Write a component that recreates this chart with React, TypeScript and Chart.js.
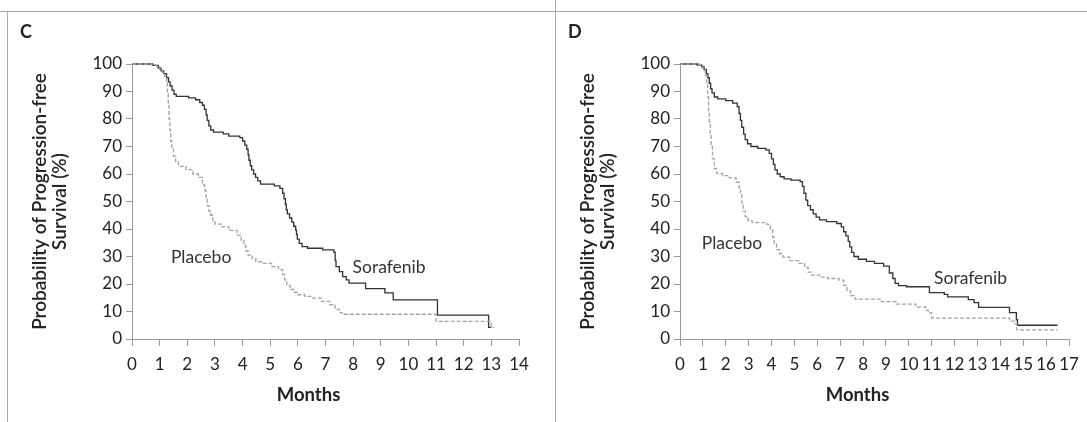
import React, { useEffect, useRef } from "react";
import { Chart, registerables } from "chart.js";

Chart.register(...registerables);

// ---------- Data ----------
const yTickValues = [0, 10, 20, 30, 40, 50, 60, 70, 80, 90, 100];
const xTickValuesC = [0, 1, 2, 3, 4, 5, 6, 7, 8, 9, 10, 11, 12, 13, 14];
const xTickValuesD = [0, 1, 2, 3, 4, 5, 6, 7, 8, 9, 10, 11, 12, 13, 14, 15, 16, 17];

// Panel C – Sorafenib (months, % progression-free)
const cSorafenibMonths = [0, 0.75, 0.95, 1.05, 1.15, 1.25, 1.32, 1.38, 1.45, 1.52, 1.6, 2.05, 2.3, 2.45, 2.55, 2.62, 2.68, 2.72, 2.78, 2.85, 2.95, 3.3, 3.5, 3.9, 4.0, 4.08, 4.15, 4.2, 4.23, 4.28, 4.33, 4.4, 4.47, 4.55, 4.65, 5.15, 5.35, 5.45, 5.5, 5.55, 5.58, 5.62, 5.7, 5.78, 5.85, 5.92, 5.95, 5.98, 6.05, 6.15, 6.35, 6.9, 7.3, 7.35, 7.38, 7.5, 7.62, 7.75, 7.85, 8.45, 9.15, 9.45, 11.05, 12.9, 13.0];
const cSorafenibPct = [100, 99.5, 98.5, 97.5, 96.5, 95, 93.5, 92, 90.5, 89, 88.2, 87.7, 87, 86, 85, 83.5, 81.5, 79.5, 77.5, 76, 75.2, 74.6, 73.8, 73.2, 72, 70.5, 69, 67, 65, 63, 61.5, 60, 58.8, 57.5, 56.3, 55.7, 54.8, 53, 51, 49, 47, 45.5, 44, 42.5, 41, 39.6, 38, 36.3, 34.8, 33.6, 33, 32.4, 31.6, 28.5, 26.3, 24.5, 22.7, 21.5, 20.3, 18.3, 16.8, 14.2, 8.7, 4.2, 4.2];

// Panel C – Placebo
const cPlaceboMonths = [0, 0.7, 0.9, 1.0, 1.1, 1.18, 1.25, 1.28, 1.31, 1.34, 1.37, 1.4, 1.44, 1.5, 1.58, 1.68, 1.95, 2.2, 2.4, 2.55, 2.63, 2.68, 2.72, 2.78, 2.85, 2.92, 3.0, 3.25, 3.5, 3.8, 3.95, 4.05, 4.12, 4.2, 4.35, 4.48, 4.75, 5.05, 5.3, 5.45, 5.52, 5.6, 5.72, 5.85, 6.0, 6.25, 6.55, 6.85, 7.15, 7.35, 7.5, 7.6, 11.0, 13.0, 13.1];
const cPlaceboPct = [100, 99.6, 99, 98, 97, 95.5, 93, 89, 85, 80, 76, 72, 69, 66.5, 64.5, 62.8, 61.6, 60, 58.8, 56, 54, 51.5, 48.5, 46.5, 45, 43, 41.8, 40.8, 39.5, 37.8, 36, 34, 32, 30.5, 29.2, 28.1, 27.5, 26.3, 25.2, 23.5, 21.5, 19.5, 18, 17, 16.1, 15.5, 14.9, 13.7, 12.5, 10.8, 9.6, 9.0, 6.4, 4.2, 4.2];

// Panel D – Sorafenib
const dSorafenibMonths = [0, 0.75, 0.95, 1.05, 1.15, 1.22, 1.28, 1.34, 1.4, 1.5, 1.65, 2.0, 2.3, 2.5, 2.58, 2.64, 2.7, 2.78, 2.85, 2.95, 3.1, 3.4, 3.75, 3.9, 4.0, 4.08, 4.15, 4.25, 4.38, 4.55, 4.85, 5.25, 5.35, 5.42, 5.5, 5.58, 5.7, 5.82, 5.95, 6.1, 6.4, 6.85, 7.05, 7.15, 7.25, 7.35, 7.42, 7.5, 7.6, 7.8, 8.15, 8.5, 8.9, 9.15, 9.3, 9.4, 9.55, 9.9, 10.9, 11.55, 11.7, 12.6, 12.85, 13.05, 14.4, 14.7, 14.75, 16.5];
const dSorafenibPct = [100, 99.6, 99, 98, 96.5, 95, 93, 91, 89.5, 88, 87.3, 86.7, 85.8, 84.5, 82, 79.5, 77, 74.5, 72.5, 71, 70, 69.3, 68.8, 67.5, 65.5, 63.5, 61.5, 60, 59, 58.2, 57.8, 57.2, 55.5, 53, 50.5, 48.5, 47, 45.5, 44.3, 43.3, 42.7, 42, 40.8, 39, 37.5, 35.5, 33.5, 31.5, 30, 29, 28.2, 27.5, 26.5, 24, 22, 20.2, 19.4, 19, 16.9, 16.2, 15.3, 14.3, 13.2, 11.5, 9.6, 7, 5, 5];

// Panel D – Placebo
const dPlaceboMonths = [0, 0.85, 1.0, 1.1, 1.17, 1.21, 1.25, 1.28, 1.32, 1.36, 1.42, 1.5, 1.6, 1.85, 2.15, 2.45, 2.58, 2.64, 2.7, 2.76, 2.85, 2.98, 3.15, 3.8, 3.95, 4.05, 4.12, 4.22, 4.35, 4.5, 4.8, 5.2, 5.45, 5.6, 5.75, 6.1, 6.45, 6.95, 7.15, 7.3, 7.45, 7.65, 8.8, 9.45, 10.3, 10.75, 10.85, 11.0, 14.4, 14.6, 14.72, 16.5];
const dPlaceboPct = [100, 99.5, 98, 96, 93, 88, 83, 79, 74.5, 70, 65.5, 62, 60.2, 59.4, 58.6, 57, 55, 52.5, 49.5, 46.5, 44.5, 43, 42.3, 41.7, 40, 37, 34.5, 32.5, 31, 29.8, 28.5, 27.5, 26, 24.3, 23.2, 22.5, 22, 21.4, 19.5, 17.5, 15.8, 14.5, 13.6, 12.7, 11.6, 10.5, 9.5, 7.6, 6.5, 5.5, 3.3, 3.3];

const yTitleLines = ["Probability of Progression-free", "Survival (%)"];
const xTitle = "Months";

// ---------- Chart helpers ----------
const FONT = 'Lato, "Open Sans", sans-serif';
const AXIS_GREY = "#9a9a9a";
const TEXT = "#222";

const toPoints = (xs: number[], ys: number[]) => xs.map((x, i) => ({ x, y: ys[i] }));

const textPlugin = {
  id: "panelText",
  afterDraw(chart: any, _args: any, opts: any) {
    const { ctx, chartArea, scales } = chart;
    ctx.save();
    ctx.fillStyle = TEXT;
    // panel letter
    ctx.font = `bold 18px ${FONT}`;
    ctx.textAlign = "left";
    ctx.textBaseline = "middle";
    ctx.fillText(opts.letter, opts.letterX, opts.letterY);
    // x axis title
    ctx.font = `bold 18.5px ${FONT}`;
    ctx.textAlign = "center";
    ctx.fillText(xTitle, (chartArea.left + chartArea.right) / 2 - 17, scales.x.top + 56);
    // curve labels
    ctx.font = `17.5px ${FONT}`;
    ctx.fillStyle = "#333";
    for (const l of opts.labels) {
      ctx.fillText(l.text, scales.x.getPixelForValue(l.x), scales.y.getPixelForValue(l.y));
    }
    ctx.restore();
  },
};

interface PanelProps {
  left: number;
  width: number;
  xMax: number;
  xTicks: number[];
  sorafenib: { x: number; y: number }[];
  placebo: { x: number; y: number }[];
  letter: string;
  labels: { text: string; x: number; y: number }[];
  rightPad: number;
}

function Panel(p: PanelProps) {
  const ref = useRef<HTMLCanvasElement | null>(null);
  useEffect(() => {
    if (!ref.current) return;
    const chart = new Chart(ref.current, {
      type: "line",
      data: {
        datasets: [
          {
            label: "Placebo",
            data: p.placebo,
            borderColor: "#a3a3a3",
            borderWidth: 1.3,
            borderDash: [4, 2],
            pointRadius: 0,
            stepped: "before",
            fill: false,
            clip: false as any,
          },
          {
            label: "Sorafenib",
            data: p.sorafenib,
            borderColor: "#333333",
            borderWidth: 1.3,
            pointRadius: 0,
            stepped: "before",
            fill: false,
            clip: false as any,
          },
        ],
      },
      plugins: [textPlugin as any],
      options: {
        animation: false,
        responsive: false,
        maintainAspectRatio: false,
        layout: { padding: { top: 52, left: 0, right: p.rightPad, bottom: 0 } },
        plugins: {
          legend: { display: false },
          tooltip: { enabled: false },
          panelText: { letter: p.letter, letterX: 12, letterY: 20, labels: p.labels },
        } as any,
        scales: {
          x: {
            type: "linear",
            min: 0,
            max: p.xMax,
            afterBuildTicks: (s: any) => {
              s.ticks = p.xTicks.map((v) => ({ value: v }));
            },
            afterFit: (s: any) => {
              s.height = 83;
            },
            grid: { drawOnChartArea: false, drawTicks: true, tickLength: 7, color: AXIS_GREY, lineWidth: 1 },
            border: { display: true, color: AXIS_GREY, width: 1 },
            ticks: {
              autoSkip: false,
              maxRotation: 0,
              minRotation: 0,
              padding: 8,
              color: TEXT,
              font: { family: FONT, size: 17 },
            },
          },
          y: {
            type: "linear",
            min: 0,
            max: 100,
            afterBuildTicks: (s: any) => {
              s.ticks = yTickValues.map((v) => ({ value: v }));
            },
            afterFit: (s: any) => {
              s.width = 124;
            },
            grid: { drawOnChartArea: false, drawTicks: true, tickLength: 6, color: AXIS_GREY, lineWidth: 1 },
            border: { display: true, color: AXIS_GREY, width: 1 },
            ticks: {
              padding: 4,
              color: TEXT,
              font: { family: FONT, size: 17 },
            },
            title: {
              display: true,
              text: yTitleLines,
              color: TEXT,
              font: { family: FONT, size: 19, weight: "600", lineHeight: 1.1 },
              padding: { top: 21, bottom: 0 },
            },
          },
        },
      },
    });
    return () => chart.destroy();
  }, []);
  return (
    <canvas
      ref={ref}
      width={p.width}
      height={410}
      style={{ position: "absolute", left: p.left, top: 12, width: p.width, height: 410 }}
    />
  );
}

export default function App() {
  return (
    <div
      style={{
        position: "fixed",
        left: 0,
        top: 0,
        width: 1087,
        height: 422,
        background: "#fff",
        overflow: "hidden",
      }}
    >
      <div style={{ position: "absolute", left: 0, top: 11, width: 1087, height: 1, background: "#aaa" }} />
      <div style={{ position: "absolute", left: 7, top: 11, width: 1, height: 411, background: "#aaa" }} />
      <div style={{ position: "absolute", left: 555, top: 0, width: 1, height: 422, background: "#aaa" }} />
      <Panel
        left={8}
        width={547}
        xMax={14}
        xTicks={xTickValuesC}
        sorafenib={toPoints(cSorafenibMonths, cSorafenibPct)}
        placebo={toPoints(cPlaceboMonths, cPlaceboPct)}
        letter="C"
        labels={[
          { text: "Placebo", x: 2.5, y: 29.8 },
          { text: "Sorafenib", x: 9.3, y: 26.2 },
        ]}
        rightPad={36}
      />
      <Panel
        left={556}
        width={531}
        xMax={17}
        xTicks={xTickValuesD}
        sorafenib={toPoints(dSorafenibMonths, dSorafenibPct)}
        placebo={toPoints(dPlaceboMonths, dPlaceboPct)}
        letter="D"
        labels={[
          { text: "Placebo", x: 2.27, y: 34.9 },
          { text: "Sorafenib", x: 12.7, y: 22.2 },
        ]}
        rightPad={18}
      />
    </div>
  );
}
